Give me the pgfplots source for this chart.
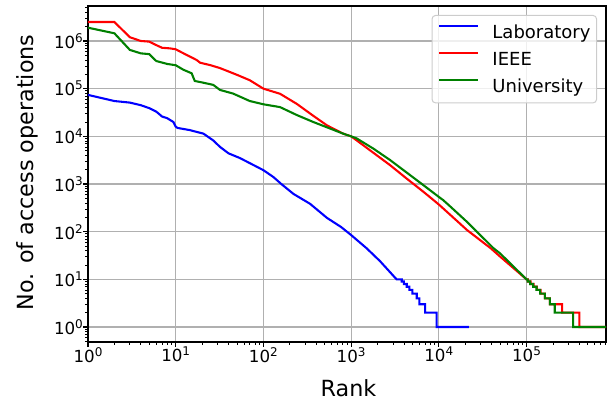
\documentclass[border=0pt]{standalone}
\usepackage{fontspec}
\setmainfont{DejaVu Sans}
\usepackage{pgfplots}
\pgfplotsset{compat=1.18}
\newcommand{\pw}[1]{10\raisebox{4.5pt}{\fontsize{9}{9}\selectfont #1}}
\definecolor{gridgray}{RGB}{176,176,176}
\definecolor{mgreen}{RGB}{0,128,0}
\definecolor{legframe}{RGB}{204,204,204}
\begin{document}
\begin{tikzpicture}
\begin{axis}[
  scale only axis, width=388.5pt, height=252pt,
  xmode=log, ymode=log,
  xmin=1, xmax=8.06e5, ymin=0.485, ymax=5.42e6,
  axis line style={line width=0.83pt},
  tick align=outside, tick pos=left,
  major tick length=3.65pt, minor tick length=2.08pt,
  every tick/.style={black, line width=0.83pt},
  every minor tick/.style={black, line width=0.6pt},
  xtick={1,10,100,1000,10000,100000},
  xticklabels={\pw{0},\pw{1},\pw{2},\pw{3},\pw{4},\pw{5}},
  minor xtick={2,3,4,5,6,7,8,9,20,30,40,50,60,70,80,90,200,300,400,500,600,700,800,900,2000,3000,4000,5000,6000,7000,8000,9000,2e4,3e4,4e4,5e4,6e4,7e4,8e4,9e4,2e5,3e5,4e5,5e5,6e5,7e5,8e5},
  ytick={1,10,100,1000,10000,100000,1000000},
  yticklabels={\pw{0},\pw{1},\pw{2},\pw{3},\pw{4},\pw{5},\pw{6}},
  minor ytick={0.5,0.6,0.7,0.8,0.9,2,3,4,5,6,7,8,9,20,30,40,50,60,70,80,90,200,300,400,500,600,700,800,900,2000,3000,4000,5000,6000,7000,8000,9000,2e4,3e4,4e4,5e4,6e4,7e4,8e4,9e4,2e5,3e5,4e5,5e5,6e5,7e5,8e5,9e5,2e6,3e6,4e6,5e6},
  ticklabel style={font=\fontsize{12.5}{14}\selectfont},
  xticklabel style={anchor=north, inner sep=0pt},
  yticklabel style={anchor=east, inner sep=0pt},
  grid=major,
  major grid style={gridgray, line width=0.83pt},
  minor grid style={draw=none},
  xlabel={Rank}, ylabel={No. of access operations},
  label style={font=\fontsize{16.7}{20}\selectfont},
  xlabel style={at={(axis description cs:0.503,-0.1622)}, anchor=base},
  ylabel style={at={(axis description cs:-0.1052,0.505)}, anchor=base},
  legend style={at={(axis description cs:1,1)}, anchor=north east, xshift=-6.75pt, yshift=-6.75pt,
    draw=legframe, line width=0.75pt, rounded corners=2.5pt, fill=white, fill opacity=0.8, text opacity=1,
    inner xsep=4.5pt, inner ysep=5pt, font=\fontsize{13.5}{16}\selectfont, row sep=5.7pt,
    nodes={inner sep=0pt, text height=12pt, text depth=2.7pt}},
  legend cell align=left,
  legend image code/.code={\draw[#1, line width=1.56pt] (0pt,4.8pt) -- (29.5pt,4.8pt); \path (39.2pt,0pt);},
]
\addplot[blue, line width=1.56pt] coordinates {
(1,74000)(2,55000)(3,51000)(4,45000)(5,39000)(6,33000)(7,26000)(8,24000)(9.4,20000)(10,16000)(10.5,15000)(14.5,13500)(17,12500)(20.7,11400)(26.8,8200)(32,6000)(40,4400)(54,3500)(77,2500)(100,1950)(130,1400)(160,1000)(220,620)(340,385)(530,195)(770,125)(1000,85)(1500,45)(2140,24)(3300,10)(3780,10)(3780,9)(4000,9)(4000,8)(4310,8)(4310,7)(4620,7)(4620,6)(5000,6)(5000,5)(5600,5)(5600,4)(6000,4)(6000,3)(6970,3)(6970,2)(9460,2)(9460,1)(22000,1)
};
\addlegendentry{Laboratory}
\addplot[red, line width=1.56pt] coordinates {
(1,2.5e6)(2,2.5e6)(3,1.2e6)(4,1.0e6)(5,9.7e5)(6,8.2e5)(7,7.2e5)(8.6,7.0e5)(10,6.7e5)(13.3,5.1e5)(17.3,4.0e5)(19,3.5e5)(25,3.1e5)(32,2.7e5)(50,1.95e5)(70,1.5e5)(100,1.0e5)(155,7.8e4)(240,4.8e4)(370,2.7e4)(530,1.7e4)(810,1.14e4)(1000,1.0e4)(1150,8.3e3)(1800,4.5e3)(2770,2.5e3)(4300,1.3e3)(6650,690)(8700,460)(1.02e4,360)(1.6e4,170)(2.1e4,108)(3.9e4,45)(5e4,30)(1e5,10)(1.035e5,10)(1.035e5,9)(1.11e5,9)(1.11e5,8)(1.2e5,8)(1.2e5,7)(1.31e5,7)(1.31e5,6)(1.45e5,6)(1.45e5,5)(1.62e5,5)(1.62e5,4)(1.85e5,4)(1.85e5,3)(2.55e5,3)(2.55e5,2)(4.0e5,2)(4.0e5,1)(8.06e5,1)
};
\addlegendentry{IEEE}
\addplot[mgreen, line width=1.56pt] coordinates {
(1,1.9e6)(2,1.45e6)(3,6.5e5)(4,5.5e5)(5,5.3e5)(6,3.8e5)(8,3.3e5)(10,3.1e5)(12.2,2.5e5)(15.2,2.1e5)(16.5,1.45e5)(20,1.35e5)(26.8,1.2e5)(32,9.4e4)(45,7.9e4)(70,5.5e4)(100,4.7e4)(155,4.1e4)(240,2.8e4)(370,2.0e4)(580,1.45e4)(810,1.14e4)(1000,1.0e4)(1150,9.1e3)(1800,5.5e3)(2770,3.2e3)(4300,1.74e3)(6650,950)(1.02e4,522)(1.12e4,460)(1.3e4,360)(2.1e4,160)(4.2e4,45)(5e4,35)(1e5,10)(1.03e5,10)(1.03e5,9)(1.1e5,9)(1.1e5,8)(1.19e5,8)(1.19e5,7)(1.3e5,7)(1.3e5,6)(1.43e5,6)(1.43e5,5)(1.62e5,5)(1.62e5,4)(1.85e5,4)(1.85e5,3)(2.1e5,3)(2.1e5,2)(3.4e5,2)(3.4e5,1)(8.06e5,1)
};
\addlegendentry{University}
\end{axis}
\pgfresetboundingbox
\useasboundingbox (-66pt,-45.75pt) rectangle (393.75pt,256.5pt);
\end{tikzpicture}
\end{document}
